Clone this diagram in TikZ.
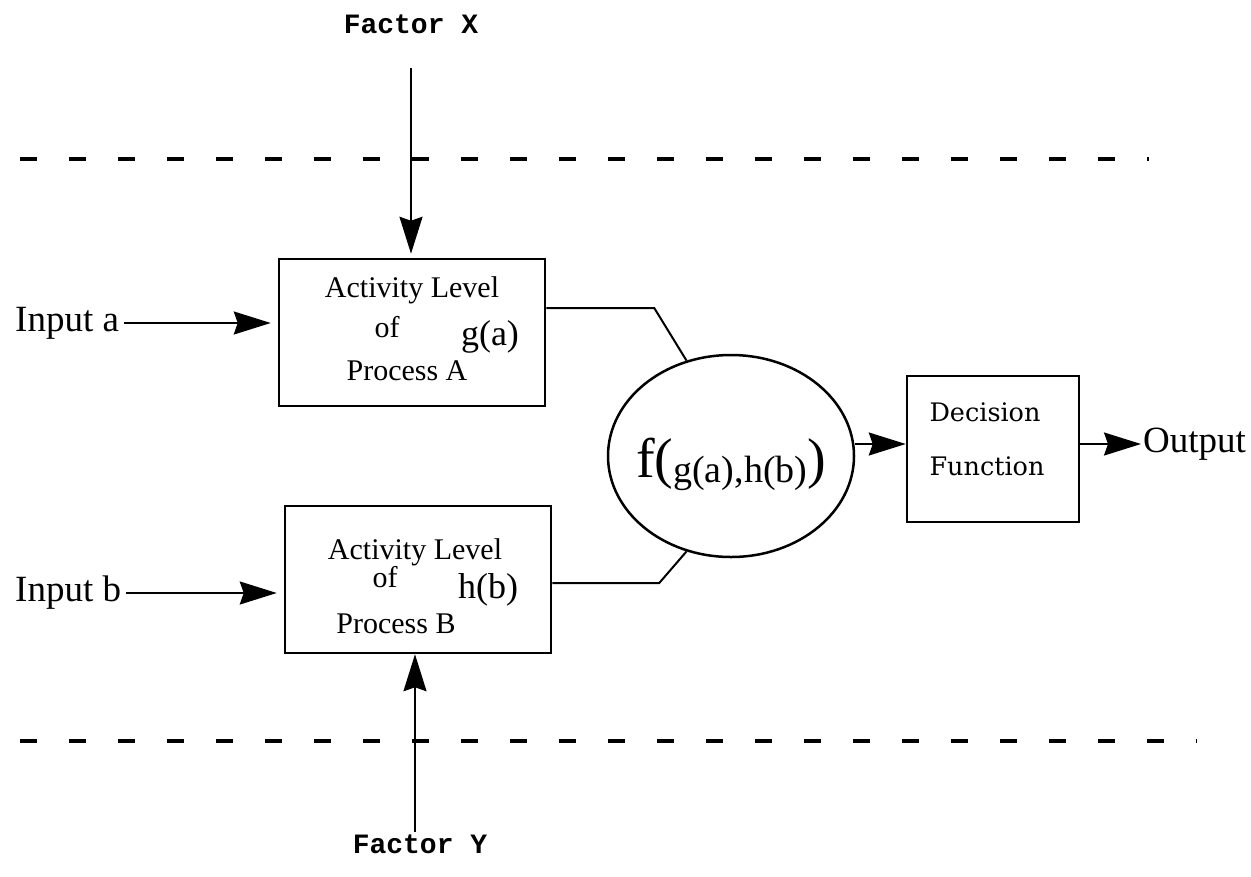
\documentclass[tikz,border=0pt]{standalone}
\usepackage{fontspec}
\setmainfont{Liberation Serif}
\newfontfamily\factorfont{Liberation Mono}
\newfontfamily\decfont{DejaVu Serif}
\usetikzlibrary{arrows.meta}
\usetikzlibrary{shapes.geometric}

\begin{document}
\begin{tikzpicture}[x=1pt,y=-1pt,
  box/.style={draw,line width=2.5pt,inner sep=0,minimum width=266pt,minimum height=147pt},
  lbl/.style={inner sep=0,font=\fontsize{37}{40}\selectfont},
  txt/.style={inner sep=0,anchor=base,font=\fontsize{30}{32}\selectfont},
  fn/.style={inner sep=0,anchor=base,font=\fontsize{36}{38}\selectfont},
  dtxt/.style={inner sep=0,anchor=base,font=\decfont\fontsize{25.5}{28}\selectfont},
  fac/.style={inner sep=0,font=\factorfont\bfseries\fontsize{28}{30}\selectfont},
  arr/.style={line width=2pt,-{Stealth[length=37pt,width=23pt,inset=4pt]}},
  wire/.style={line width=2pt},
  sep/.style={line width=3.5pt,dash pattern=on 17pt off 32pt}]
  % Boundary
  \path[use as bounding box] (0,0) rectangle (1251,876);
  % Separators
  \draw[sep] (20,159) -- (1149,159);
  \draw[sep] (20,741) -- (1197,741);
  % Processes
  \node[box] (boxA) at (412,332.5) {};
  \node[txt] (actA) at (412,297) {Activity Level};
  \node[txt] (ofA) at (387,337) {of};
  \node[fn] (gA) at (490,345) {g(a)};
  \node[txt] (procA) at (407,380) {Process A};
  \node[box] (boxB) at (418,579.5) {};
  \node[txt] (actB) at (415,559) {Activity Level};
  \node[txt] (ofB) at (385,587) {of};
  \node[fn] (hB) at (488,598) {h(b)};
  \node[txt] (procB) at (396,633) {Process B};
  % Combination
  \node[draw,ellipse,line width=2.5pt,inner sep=0,minimum width=246pt,minimum height=202pt] (ell) at (731,456) {};
  \node[inner sep=0,anchor=base] (form) at (731,477)
    {{\fontsize{56}{58}\selectfont f(}\raisebox{-5pt}{\fontsize{38}{40}\selectfont g(a),h(b)}{\fontsize{56}{58}\selectfont )}};
  \node[box,minimum width=172pt,minimum height=146pt] (dec) at (993,449) {};
  \node[dtxt] (decT) at (985,421) {Decision};
  \node[dtxt] (funT) at (987,475) {Function};
  % Inputs and outputs
  \node[lbl,anchor=west] (inA) at (15,323) {Input a};
  \node[lbl,anchor=west] (inB) at (15,593) {Input b};
  \node[lbl,anchor=west] (out) at (1143,444) {Output};
  \node[fac] (fX) at (411,24) {Factor X};
  \node[fac] (fY) at (420,844) {Factor Y};
  \coordinate (xtop) at (411,68);
  \coordinate (ybot) at (415,832);
  % Connectors
  \draw[arr,shorten <=5pt,shorten >=7pt] (inA) -- (inA -| boxA.west);
  \draw[arr,shorten <=5pt,shorten >=7pt] (inB) -- (inB -| boxB.west);
  \draw[arr,shorten >=4pt] (xtop) -- (xtop |- boxA.north);
  \draw[arr] (ybot) -- (ybot |- boxB.south);
  \draw[wire] ([yshift=24.5pt]boxA.east) -- ++(108,0) -- (ell.115);
  \draw[wire] ([yshift=-3.5pt]boxB.east) -- ++(107,0) -- (ell.245);
  \draw[arr] ([yshift=12pt]ell.east) -- ([yshift=12pt]ell.east -| dec.west);
  \draw[arr,shorten >=2pt] ([yshift=5pt]dec.east) -- ([yshift=5pt]dec.east -| out.west);
\end{tikzpicture}
\end{document}
